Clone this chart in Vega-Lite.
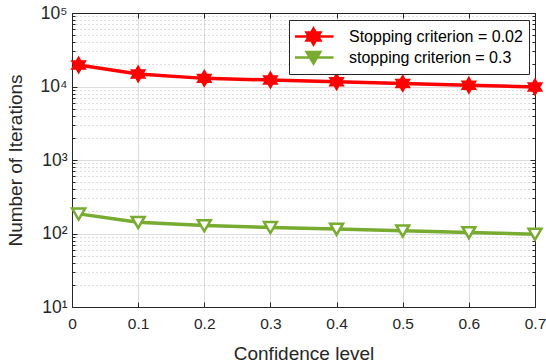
{
  "$schema": "https://vega.github.io/schema/vega-lite/v6.json",
  "width": 463,
  "height": 294,
  "autosize": {"type": "none"},
  "padding": {"left": 72, "top": 13, "right": 11, "bottom": 57},
  "background": "white",
  "config": {
    "view": {"stroke": "#262626", "strokeWidth": 1},
    "axis": {
      "labelFont": "Liberation Sans",
      "titleFont": "Liberation Sans",
      "labelFontSize": 15.5,
      "titleFontSize": 19,
      "titleFontWeight": "normal",
      "labelColor": "#262626",
      "titleColor": "#262626",
      "domainColor": "#262626",
      "tickColor": "#262626",
      "gridColor": "#dedede"
    },
    "legend": {
      "labelFont": "Liberation Sans",
      "labelFontSize": 16,
      "labelColor": "#000000"
    }
  },
  "data": {
    "values": [
      {"cl": 0.01, "iter": 19600, "series": "Stopping criterion = 0.02"},
      {"cl": 0.1, "iter": 14800, "series": "Stopping criterion = 0.02"},
      {"cl": 0.2, "iter": 12900, "series": "Stopping criterion = 0.02"},
      {"cl": 0.3, "iter": 12250, "series": "Stopping criterion = 0.02"},
      {"cl": 0.4, "iter": 11600, "series": "Stopping criterion = 0.02"},
      {"cl": 0.5, "iter": 11000, "series": "Stopping criterion = 0.02"},
      {"cl": 0.6, "iter": 10400, "series": "Stopping criterion = 0.02"},
      {"cl": 0.7, "iter": 9850, "series": "Stopping criterion = 0.02"},
      {"cl": 0.01, "iter": 185, "series": "stopping criterion = 0.3"},
      {"cl": 0.1, "iter": 142, "series": "stopping criterion = 0.3"},
      {"cl": 0.2, "iter": 128, "series": "stopping criterion = 0.3"},
      {"cl": 0.3, "iter": 121, "series": "stopping criterion = 0.3"},
      {"cl": 0.4, "iter": 115, "series": "stopping criterion = 0.3"},
      {"cl": 0.5, "iter": 109, "series": "stopping criterion = 0.3"},
      {"cl": 0.6, "iter": 103, "series": "stopping criterion = 0.3"},
      {"cl": 0.7, "iter": 98, "series": "stopping criterion = 0.3"}
    ]
  },
  "resolve": {"axis": {"x": "independent", "y": "independent"}},
  "layer": [
    {
      "mark": {"type": "line", "strokeWidth": 3.5},
      "encoding": {
        "x": {
          "field": "cl", "type": "quantitative",
          "scale": {"domain": [0, 0.7], "nice": false, "zero": false},
          "axis": {
            "title": "Confidence level",
            "values": [0, 0.1, 0.2, 0.3, 0.4, 0.5, 0.6, 0.7],
            "labelExpr": "datum.value == 0 ? '0' : format(datum.value, '.1f')",
            "labelFlush": false,
            "labelOverlap": false,
            "tickSize": -5,
            "labelPadding": 14,
            "titlePadding": 13,
            "grid": true
          }
        },
        "y": {
          "field": "iter", "type": "quantitative",
          "scale": {"type": "log", "domain": [10, 100000], "nice": false},
          "axis": {
            "title": "Number of Iterations",
            "values": [10,20,30,40,50,60,70,80,90,100,200,300,400,500,600,700,800,900,1000,2000,3000,4000,5000,6000,7000,8000,9000,10000,20000,30000,40000,50000,60000,70000,80000,90000,100000],
            "labelExpr": "abs(log(datum.value)/LN10 - round(log(datum.value)/LN10)) < 0.001 ? '10' + ['⁰','¹','²','³','⁴','⁵'][round(log(datum.value)/LN10)] : ''",
            "labelFontSize": 17.5,
            "labelFlush": false,
            "labelOverlap": false,
            "grid": true,
            "gridDash": {"condition": {"test": "abs(log(datum.value)/LN10 - round(log(datum.value)/LN10)) < 0.001", "value": []}, "value": [1, 3]},
            "gridColor": {"condition": {"test": "abs(log(datum.value)/LN10 - round(log(datum.value)/LN10)) < 0.001", "value": "#dedede"}, "value": "#b8b8b8"},
            "tickSize": {"condition": {"test": "abs(log(datum.value)/LN10 - round(log(datum.value)/LN10)) < 0.001", "value": -5}, "value": -3},
            "labelPadding": 10,
            "titlePadding": 15
          }
        },
        "color": {
          "field": "series", "type": "nominal",
          "scale": {"domain": ["Stopping criterion = 0.02", "stopping criterion = 0.3"], "range": ["#FF0000", "#77AC30"]},
          "legend": {
            "title": null,
            "orient": "none",
            "legendX": 217,
            "legendY": 7,
            "direction": "vertical",
            "fillColor": "white",
            "strokeColor": "#262626",
            "padding": 6,
            "symbolSize": 256,
            "symbolStrokeWidth": 2.5,
            "symbolOffset": 9,
            "labelOffset": 26,
            "labelLimit": 0,
            "rowPadding": 0,
            "clipHeight": 21,
            "encode": {
              "symbols": {
                "update": {
                  "shape": {"signal": "datum.value === 'Stopping criterion = 0.02' ? 'M-2.5,0H2.5M0,-1L0.866,0.5L-0.866,0.5ZM0,1L-0.866,-0.5L0.866,-0.5Z' : 'M-2.5,0H2.5M-0.85,-0.7L0.85,-0.7L0,0.75Z'"},
                  "fill": {"signal": "datum.value === 'Stopping criterion = 0.02' ? '#FF0000' : '#77AC30'"},
                  "stroke": {"signal": "datum.value === 'Stopping criterion = 0.02' ? '#FF0000' : '#77AC30'"},
                  "strokeWidth": {"value": 2.5},
                  "opacity": {"value": 1}
                }
              }
            }
          }
        }
      }
    },
    {
      "transform": [{"filter": "datum.series === 'Stopping criterion = 0.02'"}],
      "mark": {"type": "point", "shape": "M0,-1L0.866,0.5L-0.866,0.5ZM0,1L-0.866,-0.5L0.866,-0.5Z", "filled": true, "color": "#FF0000", "stroke": "#FF0000", "strokeWidth": 1.5, "opacity": 1, "size": 250},
      "encoding": {
        "x": {
          "field": "cl", "type": "quantitative",
          "axis": {"orient": "top", "title": null, "labels": false, "grid": false, "values": [0, 0.1, 0.2, 0.3, 0.4, 0.5, 0.6, 0.7], "tickSize": -5}
        },
        "y": {
          "field": "iter", "type": "quantitative",
          "axis": {
            "orient": "right", "title": null, "labels": false, "grid": false,
            "values": [10,20,30,40,50,60,70,80,90,100,200,300,400,500,600,700,800,900,1000,2000,3000,4000,5000,6000,7000,8000,9000,10000,20000,30000,40000,50000,60000,70000,80000,90000,100000],
            "tickSize": {"condition": {"test": "abs(log(datum.value)/LN10 - round(log(datum.value)/LN10)) < 0.001", "value": -5}, "value": -3}
          }
        }
      }
    },
    {
      "transform": [{"filter": "datum.series === 'stopping criterion = 0.3'"}],
      "mark": {"type": "point", "shape": "M-0.85,-0.7L0.85,-0.7L0,0.75Z", "filled": false, "fill": "#FFFFFF", "stroke": "#77AC30", "strokeWidth": 2.5, "opacity": 1, "size": 230},
      "encoding": {
        "x": {"field": "cl", "type": "quantitative", "axis": null},
        "y": {"field": "iter", "type": "quantitative", "axis": null}
      }
    }
  ]
}
